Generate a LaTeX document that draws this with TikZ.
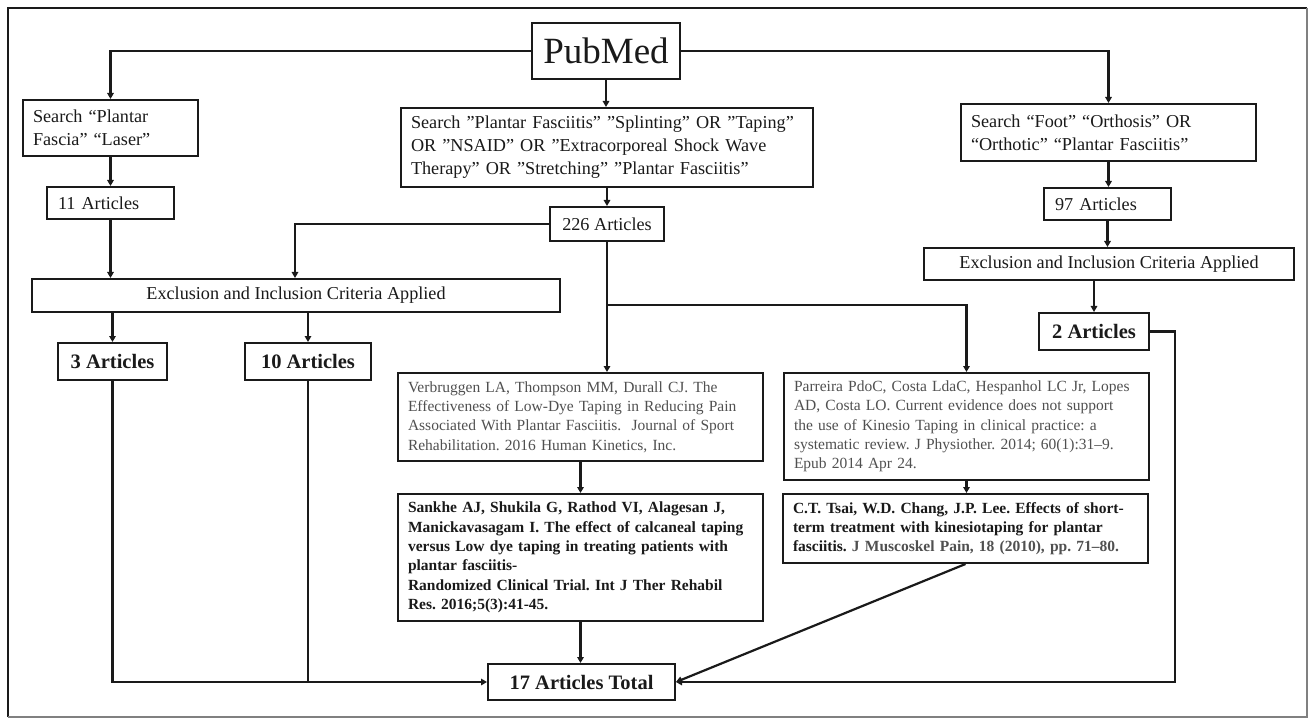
\documentclass[tikz,border=0pt]{standalone}
\usepackage{fontspec}
\setmainfont{Liberation Serif}
\usetikzlibrary{arrows.meta}
\definecolor{refgray}{HTML}{505050}
\definecolor{ink}{HTML}{1A1A1A}
\newcommand{\fsN}{\fontsize{18.2}{23}\selectfont}
\newcommand{\fsR}{\fontsize{15.5}{19.3}\selectfont}
\newcommand{\fsB}{\fontsize{20.5}{24}\selectfont\bfseries}
\newcommand{\dq}{\char34\relax}
\hyphenpenalty=10000
\frenchspacing
\begin{document}
\begin{tikzpicture}[x=1pt,y=-1pt,
  box/.style={draw=ink, line width=2pt, rectangle, anchor=north west, text=ink},
  lbox/.style={box, align=left, inner ysep=0pt},
  cbox/.style={box, align=center, inner sep=0pt},
  conn/.style={draw=ink, line width=2.2pt},
  arr/.style={conn, -{Triangle[length=6pt,width=6.5pt]}}]
\useasboundingbox (0,0) rectangle (1309,719);
\fill[white] (0,0) rectangle (1309,719);
% frame
\draw[line width=2.5pt, ink] (8,717) -- (8,8) -- (1307,8);
\draw[line width=1.2pt, gray] (1307,8) -- (1307,717) -- (8,717);

% nodes
\node[cbox, minimum width=148pt, minimum height=56pt, font=\fontsize{37}{40}\selectfont] (pm) at (531,22) {PubMed};

\node[lbox, inner xsep=10pt, text width=155pt, minimum height=56pt, font=\fsN] (ls) at (22,99) {Search “Plantar\\Fascia” “Laser”};
\node[lbox, inner xsep=11pt, text width=105pt, minimum height=32pt, font=\fsN] (a11) at (46,186) {11 Articles};

\node[lbox, inner xsep=10pt, text width=392pt, minimum height=79pt, font=\fsN] (ms) at (400,107) {Search \dq Plantar Fasciitis\dq\ \dq Splinting\dq\ OR \dq Taping\dq\\OR \dq NSAID\dq\ OR \dq Extracorporeal Shock Wave\\Therapy\dq\ OR \dq Stretching\dq\ \dq Plantar Fasciitis\dq};
\node[cbox, minimum width=114pt, minimum height=34pt, font=\fsN] (a226) at (549,206) {226 Articles};

\node[lbox, inner xsep=10pt, text width=275pt, minimum height=57pt, font=\fsN] (rs) at (960,103) {Search “Foot” “Orthosis” OR\\“Orthotic” “Plantar Fasciitis”};
\node[lbox, inner xsep=11pt, text width=105pt, minimum height=32pt, font=\fsN] (a97) at (1043,187) {97 Articles};
\node[cbox, minimum width=370pt, minimum height=32pt, font=\fsN] (exR) at (923,247) {Exclusion and Inclusion Criteria Applied};
\node[cbox, minimum width=110pt, minimum height=37pt, font=\fsB] (a2) at (1038,312) {2 Articles};

\node[cbox, minimum width=528pt, minimum height=33pt, font=\fsN] (exL) at (31,278) {Exclusion and Inclusion Criteria Applied};
\node[cbox, minimum width=109pt, minimum height=37pt, font=\fsB] (a3) at (57,342) {3 Articles};
\node[cbox, minimum width=126pt, minimum height=37pt, font=\fsB] (a10) at (244,342) {10 Articles};

\node[lbox, inner xsep=10pt, text width=345pt, minimum height=88pt, font=\fsR, text=refgray] (ver) at (397,372) {Verbruggen LA, Thompson MM, Durall CJ. The\\Effectiveness of Low-Dye Taping in Reducing Pain\\Associated With Plantar Fasciitis.\ \ Journal of Sport\\Rehabilitation. 2016 Human Kinetics, Inc.};
\node[lbox, inner xsep=10pt, text width=345pt, minimum height=127pt, font=\fsR\bfseries] (san) at (397,493) {Sankhe AJ, Shukila G, Rathod VI, Alagesan J,\\Manickavasagam I. The effect of calcaneal taping\\versus Low dye taping in treating patients with\\plantar fasciitis-\\Randomized Clinical Trial. Int J Ther Rehabil\\Res. 2016;5(3):41-45.};

\node[lbox, inner xsep=10pt, text width=345pt, minimum height=107pt, font=\fsR, text=refgray] (par) at (783,372) {Parreira PdoC, Costa LdaC, Hespanhol LC Jr, Lopes\\AD, Costa LO. Current evidence does not support\\the use of Kinesio Taping in clinical practice: a\\systematic review. J Physiother. 2014; 60(1):31–9.\\Epub 2014 Apr 24.};
\node[lbox, inner xsep=10pt, text width=345pt, minimum height=69pt, font=\fsR\bfseries] (tsai) at (782,493) {C.T. Tsai, W.D. Chang, J.P. Lee. Effects of short-\\term treatment with kinesiotaping for plantar\\fasciitis. \textcolor{refgray}{J Muscoskel Pain, 18 (2010), pp. 71–80.}};

\node[cbox, minimum width=187pt, minimum height=36pt, font=\fsB] (tot) at (487,663) {17 Articles Total};

% connectors
\coordinate (k295) at (295,0);
\coordinate (split) at (606,305);
\draw[arr] (pm.west) -| (ls.north);
\draw[arr] (pm.east) -| (rs.north);
\draw[arr] (pm.south) -- (pm.south |- ms.north);
\draw[arr] (ls.south) -- (ls.south |- a11.north);
\draw[arr] (a11.south) -- (a11.south |- exL.north);
\draw[arr] (ms.south) -- (ms.south |- a226.north);
\draw[arr] (a226.west) -| (k295 |- exL.north);
\draw[arr] (a226.south) -- (a226.south |- ver.north);
\draw[arr] (split) -| (par.north);
\draw[arr] (a3.north |- exL.south) -- (a3.north);
\draw[arr] (a10.north |- exL.south) -- (a10.north);
\draw[arr] (a3.south) |- (tot.west);
\draw[conn] (a10.south) -- (a10.south |- tot.west);
\draw[arr] (ver.south) -- (ver.south |- san.north);
\draw[arr] (san.south) -- (san.south |- tot.north);
\draw[arr] (rs.south) -- (rs.south |- a97.north);
\draw[arr] (a97.south) -- (a97.south |- exR.north);
\draw[arr] (a2.north |- exR.south) -- (a2.north);
\draw[arr] (a2.east) -- ++(25,0) |- (tot.east);
\draw[arr] (par.south) -- (par.south |- tsai.north);
\draw[arr] (tsai.south) -- (tot.east);
\end{tikzpicture}
\end{document}
